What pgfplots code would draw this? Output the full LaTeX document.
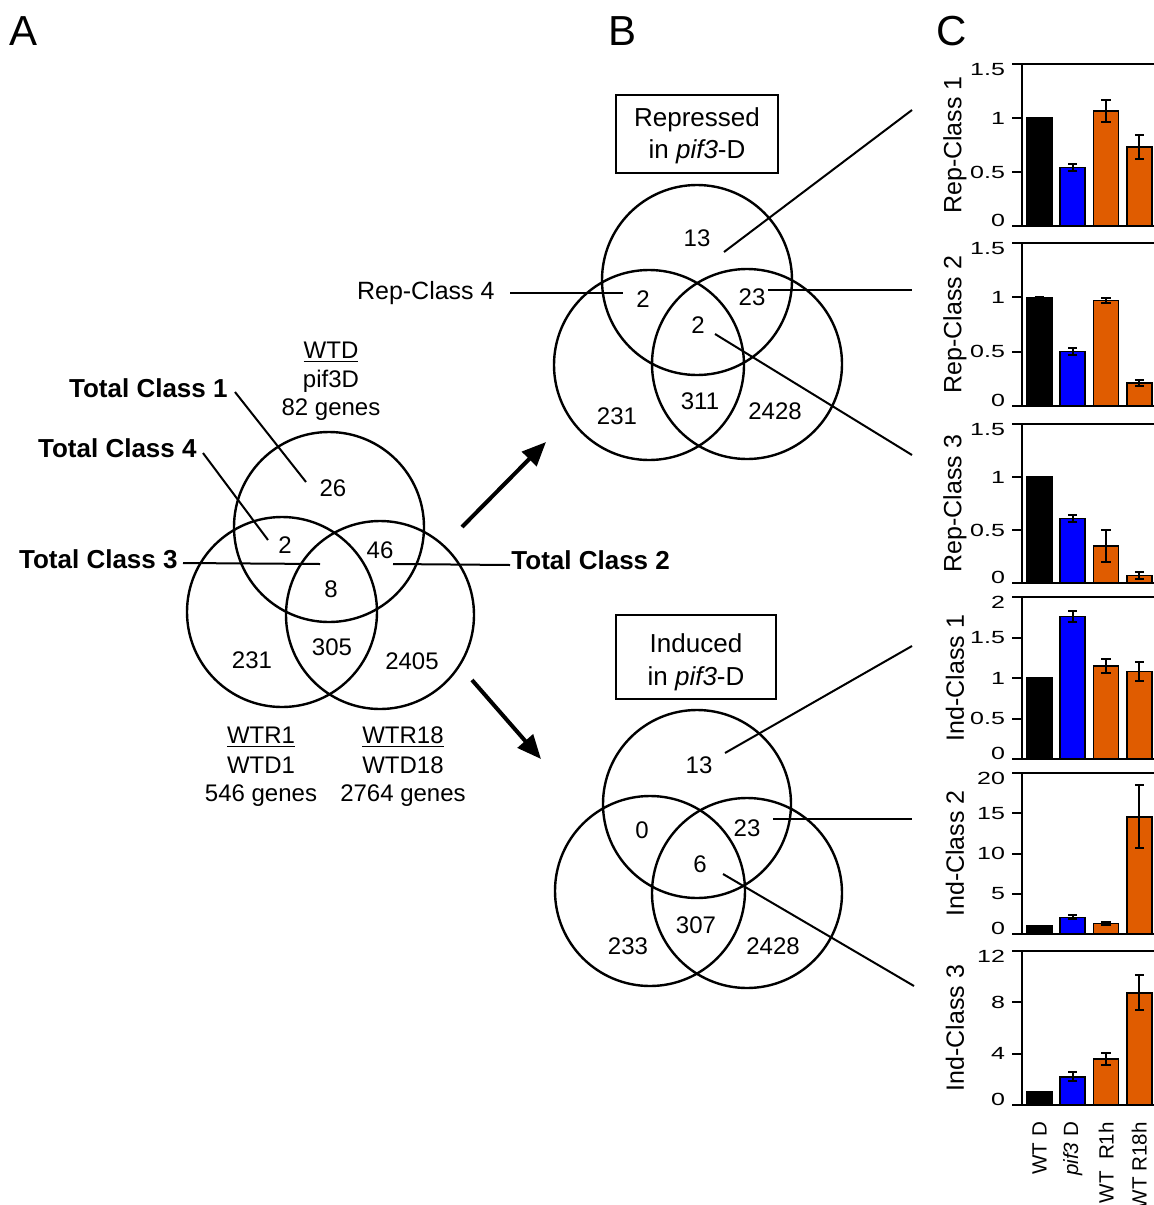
\documentclass[border=0pt]{standalone}
\usepackage{pgfplots}
\pgfplotsset{compat=1.18}
\usepackage{fontspec}
\setmainfont{Liberation Sans}
\usetikzlibrary{arrows.meta}
\definecolor{barorange}{RGB}{224,92,0}
\definecolor{barblue}{RGB}{0,0,255}
\newcommand\fs{\fontsize{12}{14}\selectfont}
\newcommand\fb{\fontsize{13}{15}\selectfont\bfseries}
\newcommand\fm{\fontsize{13}{15}\selectfont}
\newcommand\lbl{\scalebox{1.42}[1]{\pgfmathprintnumber[assume math mode=true]{\tick}}}
\pgfplotsset{
 barax/.style={scale only axis, width=67pt, xmin=-0.525, xmax=3.5, ymin=0,
  axis line style={line width=1pt}, tick style={line width=1pt, black},
  ytick pos=left, tick align=outside, major tick length=5pt, xtick=\empty,
  yticklabel style={font=\fontsize{8.8}{10}\selectfont},
  yticklabel={\ifnum\ticknum=0 \raisebox{2.8pt}[\height][0pt]{\lbl}\else\ifnum\ticknum=#1 \raisebox{-2.8pt}[\height][0pt]{\lbl}\else\lbl\fi\fi},
  ylabel style={font=\fontsize{12.5}{14}\selectfont, at={(axis description cs:-0.5,0.5)}, anchor=center},
  clip=false},
 bb/.style={ybar, bar width=12.5pt, bar shift=0pt, draw=black, line width=0.8pt,
  error bars/y dir=both, error bars/y explicit,
  error bars/error bar style={line width=1pt, black},
  error bars/error mark options={rotate=90, mark size=2.3pt, line width=1pt, black}},
}
\begin{document}
\begin{tikzpicture}
\path[use as bounding box] (0,0) rectangle (577pt,-602.5pt);
\begin{scope}[x=0.5pt,y=-0.5pt]
% panel letters
\node[font=\fontsize{21}{24}\selectfont, anchor=base] at (24,45) {A};
\node[font=\fontsize{21}{24}\selectfont, anchor=base] at (622,45) {B};
\node[font=\fontsize{21}{24}\selectfont, anchor=base] at (952,45) {C};
% ---------- Panel A ----------
\draw[line width=1.2pt] (329,527) circle[radius=95];
\draw[line width=1.2pt] (282,612) circle[radius=95];
\draw[line width=1.2pt] (380,615) circle[radius=94];
\node[font=\fs, anchor=base] at (331,358.6) {\underline{WTD}};
\node[font=\fs, anchor=base] at (331,387.6) {pif3D};
\node[font=\fs, anchor=base] at (331,415.6) {82 genes};
\node[font=\fs, anchor=base] at (261,743.6) {\underline{WTR1}};
\node[font=\fs, anchor=base] at (261,773.6) {WTD1};
\node[font=\fs, anchor=base] at (261,801.6) {546 genes};
\node[font=\fs, anchor=base] at (403,743.6) {\underline{WTR18}};
\node[font=\fs, anchor=base] at (403,773.6) {WTD18};
\node[font=\fs, anchor=base] at (403,801.6) {2764 genes};
\node[font=\fb, anchor=base east, inner sep=0pt] at (228,397.3) {Total Class 1};
\node[font=\fb, anchor=base east, inner sep=0pt] at (197,457.3) {Total Class 4};
\node[font=\fb, anchor=base east, inner sep=0pt] at (178,568.3) {Total Class 3};
\node[font=\fb, anchor=base west, inner sep=0pt] at (511,569.3) {Total Class 2};
\draw[line width=1pt] (235,392) -- (306,482);
\draw[line width=1pt] (203,453) -- (268,540);
\draw[line width=1pt] (183,563) -- (320,564);
\draw[line width=1pt] (393,564) -- (510,565);
\node[font=\fs] at (333,488) {26};
\node[font=\fs] at (285,545) {2};
\node[font=\fs] at (380,550) {46};
\node[font=\fs] at (331,589) {8};
\node[font=\fs] at (252,660) {231};
\node[font=\fs] at (332,647) {305};
\node[font=\fs] at (412,661) {2405};
% arrows
\draw[line width=2pt, -{Triangle[length=12pt,width=10pt]}] (462,527) -- (546,442);
\draw[line width=2pt, -{Triangle[length=12pt,width=10pt]}] (472,680) -- (541,759);
% ---------- Panel B top ----------
\draw[line width=1.2pt] (697,280) circle[radius=95];
\draw[line width=1.2pt] (649,365) circle[radius=95];
\draw[line width=1.2pt] (747,364) circle[radius=95];
\draw[line width=1pt] (616,95) rectangle (778,173);
\node[font=\fm, anchor=base] at (697,126.3) {Repressed};
\node[font=\fm, anchor=base] at (697,158.3) {in \textit{pif3}-D};
\node[font=\fs] at (697,238) {13};
\node[font=\fs] at (643,299) {2};
\node[font=\fs] at (752,297) {23};
\node[font=\fs] at (698,325) {2};
\node[font=\fs] at (617,416) {231};
\node[font=\fs] at (700,401) {311};
\node[font=\fs] at (775,411) {2428};
\node[font=\fontsize{12.5}{14}\selectfont, anchor=base east, inner sep=0pt] at (495,299) {Rep-Class 4};
\draw[line width=1pt] (510,293) -- (623,293);
\draw[line width=1pt] (724,252) -- (912,110);
\draw[line width=1pt] (768,290) -- (912,290);
\draw[line width=1pt] (715,334) -- (912,455);
% ---------- Panel B bottom ----------
\draw[line width=1.2pt] (697,804) circle[radius=94];
\draw[line width=1.2pt] (650,891) circle[radius=95];
\draw[line width=1.2pt] (747,893) circle[radius=95];
\draw[line width=1pt] (616,615) rectangle (776,699);
\node[font=\fm, anchor=base] at (696,652.3) {Induced};
\node[font=\fm, anchor=base] at (696,685.3) {in \textit{pif3}-D};
\node[font=\fs] at (699,765) {13};
\node[font=\fs] at (642,830) {0};
\node[font=\fs] at (747,828) {23};
\node[font=\fs] at (700,864) {6};
\node[font=\fs] at (696,925) {307};
\node[font=\fs] at (628,946) {233};
\node[font=\fs] at (773,946) {2428};
\draw[line width=1pt] (725,753) -- (912,646);
\draw[line width=1pt] (773,819) -- (912,819);
\draw[line width=1pt] (723,874) -- (914,986);
\end{scope}
% ---------- Panel C ----------
\begin{axis}[barax=3, at={(511pt,-113pt)}, anchor=south west, height=81pt,
  ymax=1.5, ytick={0,0.5,1,1.5}, ylabel={Rep-Class 1}]
\addplot[fill=black, bb] coordinates {(0,1) +- (0,0)};
\addplot[fill=barblue, bb] coordinates {(1,0.54) +- (0,0.035)};
\addplot[fill=barorange, bb] coordinates {(2,1.065) +- (0,0.10) (3,0.73) +- (0,0.11)};
\end{axis}
\begin{axis}[barax=3, at={(511pt,-203pt)}, anchor=south west, height=81.5pt,
  ymax=1.5, ytick={0,0.5,1,1.5}, ylabel={Rep-Class 2}]
\addplot[fill=black, bb] coordinates {(0,1) +- (0,0)};
\addplot[fill=barblue, bb] coordinates {(1,0.50) +- (0,0.03)};
\addplot[fill=barorange, bb] coordinates {(2,0.97) +- (0,0.025) (3,0.21) +- (0,0.03)};
\end{axis}
\begin{axis}[barax=3, at={(511pt,-291.5pt)}, anchor=south west, height=79.5pt,
  ymax=1.5, ytick={0,0.5,1,1.5}, ylabel={Rep-Class 3}]
\addplot[fill=black, bb] coordinates {(0,1) +- (0,0)};
\addplot[fill=barblue, bb] coordinates {(1,0.61) +- (0,0.035)};
\addplot[fill=barorange, bb] coordinates {(2,0.35) +- (0,0.15) (3,0.07) +- (0,0.03)};
\end{axis}
\begin{axis}[barax=4, at={(511pt,-379.5pt)}, anchor=south west, height=81pt,
  ymax=2, ytick={0,0.5,1,1.5,2}, ylabel={Ind-Class 1}]
\addplot[fill=black, bb] coordinates {(0,1) +- (0,0)};
\addplot[fill=barblue, bb] coordinates {(1,1.76) +- (0,0.07)};
\addplot[fill=barorange, bb] coordinates {(2,1.15) +- (0,0.09) (3,1.08) +- (0,0.12)};
\end{axis}
\begin{axis}[barax=4, at={(511pt,-467pt)}, anchor=south west, height=80.5pt,
  ymax=20, ytick={0,5,10,15,20}, ylabel={Ind-Class 2}]
\addplot[fill=black, bb] coordinates {(0,1) +- (0,0)};
\addplot[fill=barblue, bb] coordinates {(1,2.07) +- (0,0.25)};
\addplot[fill=barorange, bb] coordinates {(2,1.29) +- (0,0.17) (3,14.56) +- (0,3.9)};
\end{axis}
\begin{axis}[barax=3, at={(511pt,-552.5pt)}, anchor=south west, height=77pt,
  ymax=12, ytick={0,4,8,12}, ylabel={Ind-Class 3},
  xtick={0,1,2,3}, xticklabels={WT D,\textit{pif3} D,WT\ \ R1h,WT R18h},
  x tick style={draw=none},
  xticklabel style={rotate=90, anchor=east, font=\fontsize{10.3}{12}\selectfont}]
\addplot[fill=black, bb] coordinates {(0,1) +- (0,0)};
\addplot[fill=barblue, bb] coordinates {(1,2.2) +- (0,0.34)};
\addplot[fill=barorange, bb] coordinates {(2,3.58) +- (0,0.45) (3,8.75) +- (0,1.36)};
\end{axis}
\end{tikzpicture}
\end{document}
